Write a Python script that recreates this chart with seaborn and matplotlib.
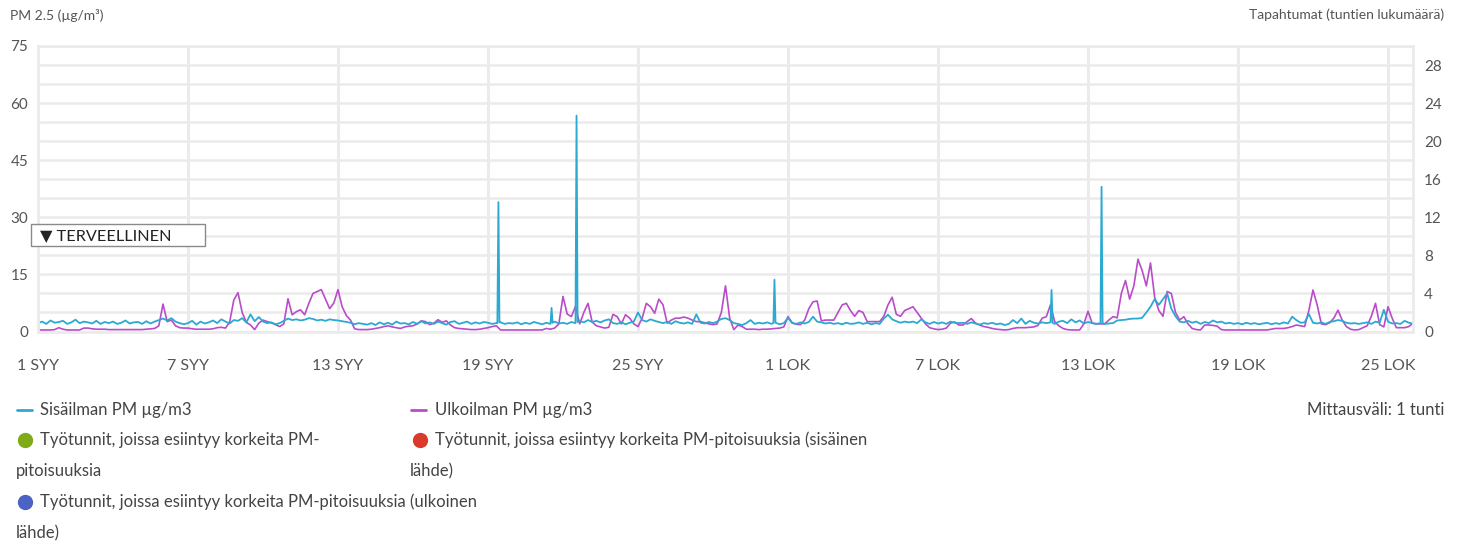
import numpy as np
import pandas as pd
import seaborn as sns
import matplotlib.pyplot as plt
from matplotlib.patches import Rectangle
from matplotlib.lines import Line2D

sns.set_theme(style="white")
plt.rcParams['font.family'] = ['Lato', 'DejaVu Sans']

# PM 2.5, one value every 4 hours from 1 SYY 00:00 (one row per day)
indoor_4h = [
    2.2, 2.6, 2.0, 2.9, 2.3, 2.5,  2.8, 2.0, 2.4, 3.1, 2.2, 2.6,
    2.4, 2.1, 2.8, 2.0, 2.5, 2.2,  2.6, 2.0, 2.3, 2.9, 2.1, 2.4,
    2.5, 2.0, 2.7, 2.1, 2.6, 3.0,  3.4, 2.9, 3.5, 2.6, 2.2, 1.9,
    2.2, 2.8, 1.8, 2.6, 2.1, 2.4,  2.9, 2.2, 3.2, 2.6, 2.1, 3.0,
    2.8, 3.5, 2.4, 4.5, 2.7, 3.8,  2.6, 2.2, 2.4, 1.9, 2.2, 2.8,
    3.4, 3.0, 3.2, 2.9, 3.1, 3.5,  3.3, 2.9, 3.1, 2.8, 3.2, 3.0,
    2.9, 2.7, 2.5, 2.3, 1.9, 2.2,  2.0, 1.8, 2.2, 1.7, 2.4, 1.9,
    2.3, 1.8, 2.6, 2.1, 2.2, 1.9,  2.5, 2.0, 2.7, 2.1, 2.4, 2.0,
    2.6, 2.2, 1.8, 2.5, 2.7, 2.0,  2.3, 2.6, 2.0, 2.4, 2.1, 2.5,
    2.3, 2.0, 2.2, 2.4, 2.0, 2.2,  2.1, 2.4, 1.9, 2.3, 2.0, 2.5,
    2.2, 1.9, 2.3, 2.0, 2.6, 2.1,  2.3, 2.0, 2.5, 2.2, 2.7, 2.4,
    3.0, 2.5, 2.8, 2.4, 2.9, 3.2,  2.2, 2.0, 2.4, 1.9, 2.3, 2.6,
    5.0, 3.0, 2.6, 3.2, 2.8, 2.5,  2.2, 2.5, 2.0, 2.7, 2.3, 2.1,
    2.4, 2.0, 4.5, 2.3, 2.1, 2.5,  2.2, 2.6, 3.3, 3.5, 3.0, 2.2,
    2.0, 1.7, 2.2, 3.0, 2.0, 2.3,  2.1, 2.4, 2.0, 2.3, 1.9, 2.2,
    3.6, 2.2, 2.0, 2.4, 2.1, 2.5,  3.9, 2.6, 2.4, 2.1, 2.3, 2.0,
    2.2, 1.9, 2.3, 2.0, 2.1, 2.4,  2.0, 2.3, 1.9, 2.2, 2.0, 3.4,
    4.4, 3.2, 2.7, 2.3, 2.6, 2.4,  2.6, 2.2, 3.2, 2.4, 2.0, 2.5,
    2.1, 2.4, 2.0, 2.6, 2.3, 2.2,  2.3, 2.0, 2.4, 2.1, 1.8, 2.2,
    2.0, 2.3, 1.9, 2.1, 1.7, 2.0,  3.0, 2.2, 3.4, 2.0, 2.8, 2.3,
    2.1, 2.4, 2.2, 2.4, 2.0, 2.6,  2.8, 2.2, 3.2, 2.4, 2.9, 2.1,
    2.5, 2.2, 2.0, 2.2, 2.0, 2.1,  2.2, 2.9, 3.0, 3.1, 3.3, 3.4,
    3.4, 3.6, 5.0, 6.5, 8.5, 7.0,  8.5, 10.0, 6.0, 4.0, 2.6, 2.4,
    2.8, 2.3, 2.6, 2.0, 2.5, 2.2,  2.9, 2.4, 2.6, 2.1, 2.3, 2.0,
    2.2, 1.9, 2.3, 2.0, 2.2, 1.9,  2.1, 2.3, 1.9, 2.2, 2.0, 2.4,
    2.1, 3.9, 3.0, 2.3, 2.4, 4.6,  2.3, 2.1, 2.4, 2.0, 2.5, 2.7,
    3.0, 2.8, 2.3, 2.1, 2.2, 2.0,  2.2, 2.4, 2.0, 2.6, 2.3, 5.7,
    2.6, 2.1, 2.2, 2.0, 2.8, 2.3,
    2.1,
]
outdoor_4h = [
    0.4, 0.4, 0.4, 0.4, 0.5, 1.0,  0.6, 0.4, 0.4, 0.4, 0.4, 0.9,
    0.9, 0.7, 0.6, 0.6, 0.6, 0.5,  0.5, 0.5, 0.5, 0.5, 0.5, 0.5,
    0.5, 0.5, 0.6, 0.7, 0.8, 1.5,  7.2, 2.6, 3.0, 1.5, 1.0, 0.9,
    0.9, 0.7, 0.6, 0.6, 0.6, 0.6,  0.7, 1.0, 1.1, 0.9, 2.5, 8.3,
    10.2, 5.0, 2.4, 1.7, 0.5, 2.2,  3.0, 2.6, 2.3, 1.8, 1.3, 2.0,
    8.6, 4.4, 5.2, 5.7, 4.4, 7.4,  10.0, 10.5, 11.0, 8.5, 6.0, 7.5,
    11.0, 6.5, 4.2, 3.0, 0.7, 0.5,  0.5, 0.5, 0.6, 0.8, 1.0, 1.3,
    1.5, 1.2, 1.0, 0.8, 1.2, 1.4,  1.5, 2.0, 2.8, 2.6, 1.8, 2.2,
    3.1, 2.4, 2.8, 1.7, 1.0, 0.8,  0.7, 0.6, 0.5, 0.5, 0.6, 0.8,
    1.0, 1.3, 1.5, 0.4, 0.4, 0.4,  0.4, 0.4, 0.4, 0.4, 0.4, 0.4,
    0.4, 0.4, 0.8, 0.6, 0.9, 2.0,  9.2, 4.6, 3.9, 6.6, 2.0, 5.0,
    7.4, 2.5, 1.5, 1.2, 0.9, 1.1,  4.5, 3.9, 2.0, 4.4, 3.5, 2.0,
    1.3, 3.5, 7.4, 6.5, 4.8, 8.5,  7.0, 2.2, 3.0, 3.5, 3.5, 3.8,
    3.5, 3.0, 2.6, 2.6, 2.3, 2.0,  1.8, 2.0, 5.0, 12.0, 3.5, 0.5,
    1.7, 1.3, 0.6, 0.6, 0.6, 0.5,  0.6, 0.6, 0.7, 0.8, 0.9, 1.2,
    3.9, 2.3, 1.9, 1.8, 3.0, 6.0,  7.8, 8.0, 2.8, 3.0, 3.0, 3.0,
    5.0, 7.0, 7.4, 5.5, 4.0, 5.5,  5.0, 2.6, 2.6, 2.6, 2.6, 4.0,
    7.0, 9.0, 4.5, 4.0, 5.5, 6.0,  6.5, 5.0, 3.5, 2.0, 1.0, 0.7,
    0.5, 0.6, 0.9, 2.2, 2.5, 1.7,  1.7, 2.6, 3.4, 2.2, 1.7, 1.3,
    1.1, 0.8, 0.6, 0.5, 0.4, 0.5,  0.8, 1.0, 1.0, 1.0, 1.1, 1.2,
    1.6, 3.5, 3.9, 7.0, 2.6, 1.5,  0.8, 0.5, 0.4, 0.4, 0.4, 2.0,
    5.3, 2.2, 2.0, 2.0, 2.0, 3.0,  3.9, 3.6, 10.0, 13.4, 8.5, 12.0,
    19.0, 16.0, 12.0, 18.0, 9.0, 5.5,  4.0, 10.5, 10.0, 5.0, 3.0, 3.9,
    2.0, 0.8, 0.5, 0.4, 1.7, 1.7,  1.6, 1.4, 0.5, 0.4, 0.4, 0.4,
    0.4, 0.4, 0.4, 0.4, 0.4, 0.4,  0.4, 0.4, 0.6, 0.8, 0.8, 0.8,
    1.0, 1.3, 1.7, 1.5, 1.3, 5.5,  10.9, 7.0, 2.0, 1.8, 2.3, 3.5,
    5.6, 3.0, 1.3, 0.6, 0.4, 0.5,  1.0, 1.5, 4.0, 7.4, 1.8, 1.2,
    6.5, 3.5, 1.0, 1.0, 1.0, 1.3,
    2.2,
]
# short indoor peaks, hourly
spike_hours = [
    "2023-09-19 09:00", "2023-09-19 10:00", "2023-09-19 11:00",
    "2023-09-21 13:00", "2023-09-21 14:00",
    "2023-09-22 13:00", "2023-09-22 14:00",
    "2023-09-30 10:00", "2023-09-30 11:00",
    "2023-10-11 13:00", "2023-10-11 14:00",
    "2023-10-13 13:00", "2023-10-13 14:00",
]
spike_values = [
    2.2, 34.0, 2.4,
    6.2, 2.3,
    56.7, 2.5,
    2.2, 13.6,
    10.9, 2.3,
    38.0, 2.2,
]

tick_dates = ["2023-09-01", "2023-09-07", "2023-09-13", "2023-09-19", "2023-09-25",
              "2023-10-01", "2023-10-07", "2023-10-13", "2023-10-19", "2023-10-25"]
tick_labels = ["1 SYY", "7 SYY", "13 SYY", "19 SYY", "25 SYY",
               "1 LOK", "7 LOK", "13 LOK", "19 LOK", "25 LOK"]

cyan = "#2aa9d2"
purple = "#b94cc9"
gray_txt = "#555555"
grid_c = "#ebebeb"

times = pd.date_range("2023-09-01", periods=len(indoor_4h), freq="4h")
indoor = pd.concat([
    pd.DataFrame({"aika": times, "pm": indoor_4h}),
    pd.DataFrame({"aika": pd.to_datetime(spike_hours), "pm": spike_values}),
]).sort_values("aika").reset_index(drop=True)
outdoor = pd.DataFrame({"aika": times, "pm": outdoor_4h})

W, H = 1461, 544
fig = plt.figure(figsize=(W / 100, H / 100), dpi=100)
ax = fig.add_axes([38 / W, 1 - 331.5 / H, (1413 - 38) / W, (331.5 - 46) / H])

sns.lineplot(data=outdoor, x="aika", y="pm", ax=ax, color=purple, lw=1.2, estimator=None)
sns.lineplot(data=indoor, x="aika", y="pm", ax=ax, color=cyan, lw=1.3, estimator=None)

ax.set_xlim(pd.Timestamp("2023-09-01"), pd.Timestamp("2023-10-26"))
ax.set_ylim(0, 75)
ax.set_xlabel("")
ax.set_ylabel("")
ax.set_yticks(np.arange(0, 76, 5))
ax.set_yticklabels([str(v) if v % 15 == 0 else "" for v in range(0, 76, 5)])
ax.set_xticks(pd.to_datetime(tick_dates))
ax.set_xticklabels(tick_labels)
ax.set_axisbelow(True)
ax.grid(axis="y", color=grid_c, lw=1.8)
ax.grid(axis="x", color=grid_c, lw=2.2)
ax.tick_params(axis="y", length=0, pad=7, labelsize=11, labelcolor=gray_txt)
ax.tick_params(axis="x", length=6, width=2, color=grid_c, pad=13.5, labelsize=11.5,
               labelcolor=gray_txt, direction="out")
for s in ax.spines.values():
    s.set_color(grid_c)
    s.set_linewidth(2)

ax2 = ax.twinx()
ax2.set_ylim(0, 30)
ax2.set_yticks(np.arange(0, 29, 4))
ax2.tick_params(axis="y", length=0, pad=8, labelsize=11, labelcolor=gray_txt)
ax2.grid(False)
for s in ax2.spines.values():
    s.set_visible(False)

# axis titles
fig.text(10 / W, 1 - 15 / H, "PM 2.5 (µg/m³)", fontsize=10, color=gray_txt, va="center")
fig.text(1444 / W, 1 - 15 / H, "Tapahtumat (tuntien lukumäärä)", fontsize=10,
         color=gray_txt, va="center", ha="right")

# threshold tag
fig.add_artist(Rectangle((31 / W, 1 - 246 / H), 174 / W, 22 / H, transform=fig.transFigure,
                         facecolor="white", edgecolor="#8a8a8a", lw=1, zorder=5))
fig.text(40 / W, 1 - 236 / H, "▼ TERVEELLINEN", fontsize=11.7, color="#222222",
         va="center", zorder=6, family=["Lato", "DejaVu Sans"])

# legend
def leg_line(x, y, c):
    fig.add_artist(Line2D([x / W, (x + 15) / W], [1 - y / H, 1 - y / H],
                          transform=fig.transFigure, color=c, lw=2))

def leg_dot(x, y, c):
    fig.add_artist(Line2D([x / W], [1 - y / H], transform=fig.transFigure, marker="o",
                          markersize=10, color=c, lw=0))

def leg_text(x, y, s, ha="left"):
    fig.text(x / W, 1 - y / H, s, fontsize=12, color="#444444", va="center", ha=ha)

leg_line(17, 410, cyan)
leg_text(40, 410, "Sisäilman PM µg/m3")
leg_line(411, 410, purple)
leg_text(435, 410, "Ulkoilman PM µg/m3")
leg_text(1444, 410, "Mittausväli: 1 tunti", ha="right")

leg_dot(25, 440, "#7fab17")
leg_text(40, 440, "Työtunnit, joissa esiintyy korkeita PM-")
leg_text(16, 471, "pitoisuuksia")
leg_dot(420, 440, "#d93a2b")
leg_text(435, 440, "Työtunnit, joissa esiintyy korkeita PM-pitoisuuksia (sisäinen")
leg_text(410, 471, "lähde)")
leg_dot(25, 502, "#4a63c4")
leg_text(40, 502, "Työtunnit, joissa esiintyy korkeita PM-pitoisuuksia (ulkoinen")
leg_text(16, 533, "lähde)")

fig.savefig("out.png", dpi=100, facecolor="white")
